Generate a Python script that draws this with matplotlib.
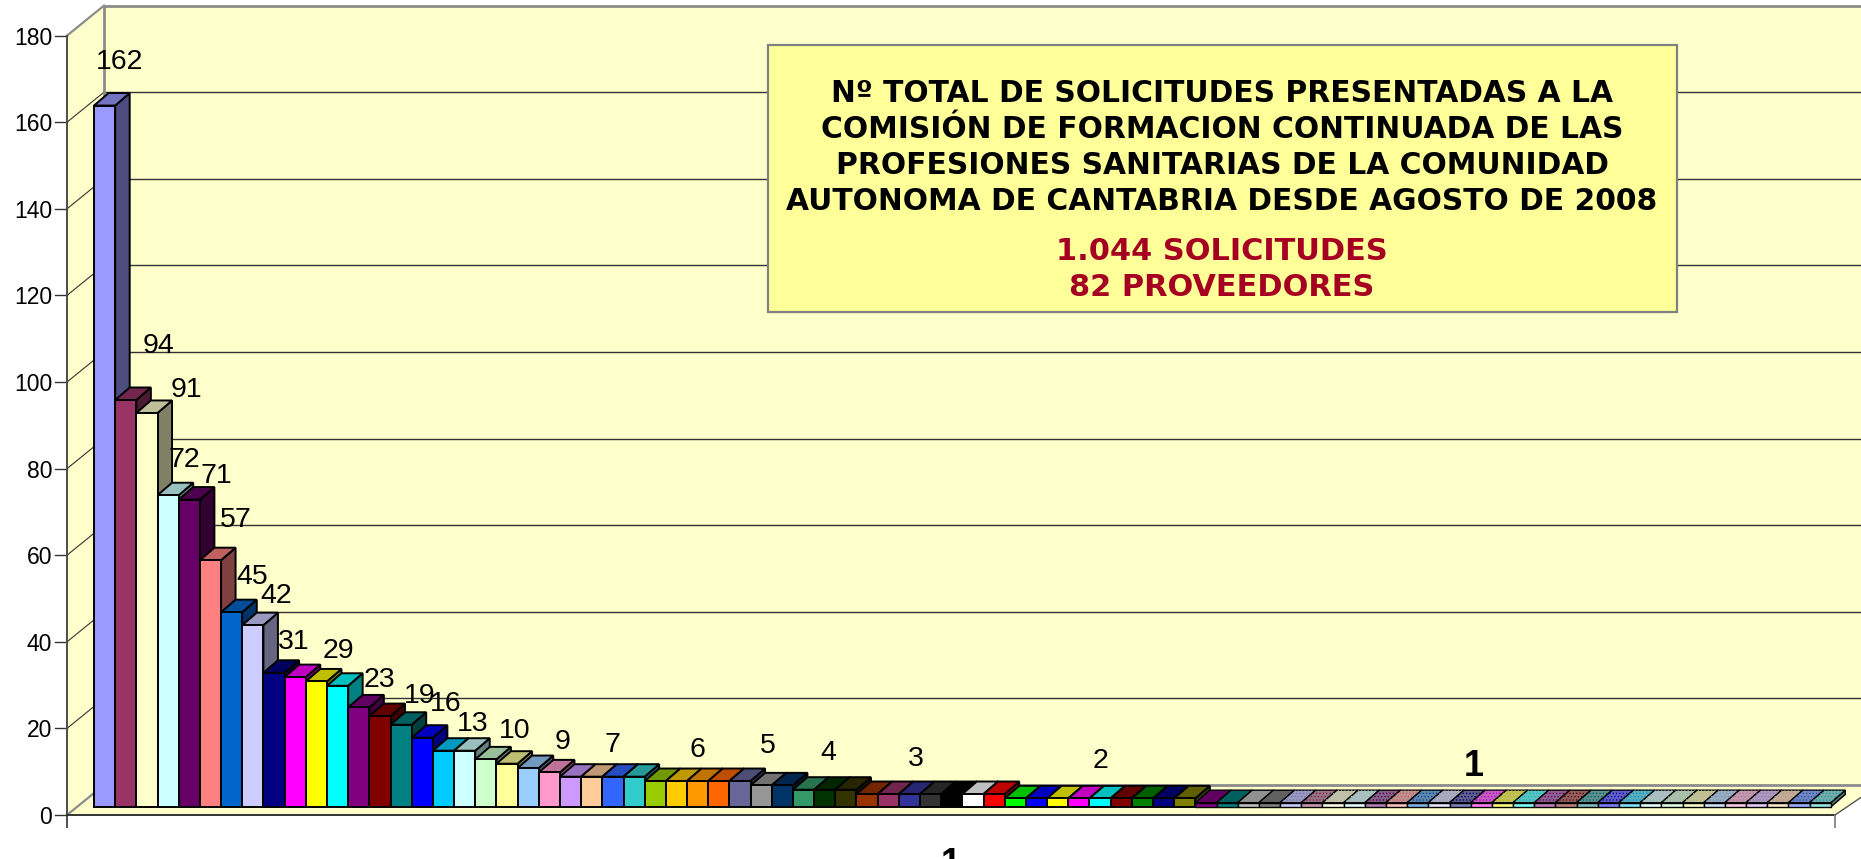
# -*- coding: utf-8 -*-
import matplotlib
matplotlib.use("Agg")
import matplotlib.pyplot as plt
from matplotlib.colors import to_rgb
from matplotlib.patches import Polygon, Rectangle

# values (82 providers, sum = 1044)
values = [162, 94, 91, 72, 71, 57, 45, 42, 31, 30, 29, 28, 23, 21, 19, 16,
          13, 13, 11, 10, 9, 8, 7, 7, 7, 7, 6, 6, 6, 6, 6, 5, 5, 4, 4, 4,
          3, 3, 3, 3, 3, 3, 3, 2, 2, 2, 2, 2, 2, 2, 2, 2,
          1, 1, 1, 1, 1, 1, 1, 1, 1, 1, 1, 1, 1, 1, 1, 1, 1, 1, 1, 1, 1, 1,
          1, 1, 1, 1, 1, 1, 1, 1]

# excel palette, the chart cycles through it
colors_a = ["#9999FF", "#993366", "#FFFFCC", "#CCFFFF", "#660066", "#FF8080",
            "#0066CC", "#CCCCFF", "#000080", "#FF00FF", "#FFFF00", "#00FFFF",
            "#800080", "#800000", "#008080", "#0000FF", "#00CCFF", "#CCFFFF",
            "#CCFFCC", "#FFFF99", "#99CCFF", "#FF99CC", "#CC99FF", "#FFCC99",
            "#3366FF", "#33CCCC"]
colors_b = ["#99CC00", "#FFCC00", "#FF9900", "#FF6600", "#666699", "#969696",
            "#003366", "#339966", "#003300", "#333300", "#993300", "#993366",
            "#333399", "#333333", "#000000", "#FFFFFF", "#FF0000", "#00FF00",
            "#0000FF", "#FFFF00", "#FF00FF", "#00FFFF", "#800000", "#008000",
            "#000080", "#808000", "#800080", "#008080", "#C0C0C0", "#808080"]
colors = colors_a + colors_b + colors_a

y_ticks = [0, 20, 40, 60, 80, 100, 120, 140, 160, 180]

# bar index, then label offset from the bar top in pixels
label_bars = [0, 1, 2, 3, 4, 5, 6, 7, 8, 10, 12, 14, 15, 16, 19, 20, 24, 28, 31, 34, 38, 47]
label_dx = [15, 33, 39, 16, 27, 25, 21, 23, 20, 22, 21, 19, 23, 29, 8, 34, 0, 0, 7, 4, 6, 0]
label_dy = [47, 57, 26, 38, 27, 43, 38, 32, 34, 33, 30, 32, 37, 30, 36, 29, 35, 34, 42, 40, 38, 40]

title_lines = ["Nº TOTAL DE SOLICITUDES PRESENTADAS A LA",
               "COMISIÓN DE FORMACION CONTINUADA DE LAS",
               "PROFESIONES SANITARIAS DE LA COMUNIDAD",
               "AUTONOMA DE CANTABRIA DESDE AGOSTO DE 2008"]
total_lines = ["1.044 SOLICITUDES", "82 PROVEEDORES"]

W, H = 1861, 859
BAR_W = 21.18   # px per bar
UNIT = 4.33     # px per value
X0, Y0 = 94, 807      # front bottom left of first bar, px
AX_X, AX_Y = 67, 815  # front corner of the axis, px
WALL_DX, WALL_DY = 37, 30
BAR_DX, BAR_DY = 14.5 / BAR_W, 12.5 / UNIT

plt.rcParams["hatch.linewidth"] = 0.6


def px_x(px):
    return (px - X0) / BAR_W


def px_y(py):
    return (Y0 - py) / UNIT


def tick_y(v):
    # the axis runs a bit below the bars
    return v - (AX_Y - Y0) / UNIT


def shade(c, f):
    return tuple(f * k for k in to_rgb(c))


def pale(c, f=0.5):
    # the last bars have a dotted fill, white dots over the colour
    return tuple(f * k + (1 - f) for k in to_rgb(c))


fig = plt.figure(figsize=(W / 100, H / 100), dpi=100)
ax = fig.add_axes([0, 0, 1, 1])
ax.set_xlim(px_x(0), px_x(W))
ax.set_ylim(px_y(H), px_y(0))
ax.axis("off")

wall = "#FFFFCC"
dx = WALL_DX / BAR_W
dy = WALL_DY / UNIT
left, right = px_x(AX_X), px_x(1835)
top = tick_y(180)

# walls and floor
ax.add_patch(Polygon([(left, tick_y(0)), (left, top), (left + dx, top + dy),
                      (px_x(W + 5), top + dy), (px_x(W + 5), tick_y(0) + 21 / UNIT),
                      (right, tick_y(0))], facecolor=wall, edgecolor="none", zorder=1))
for v in y_ticks:
    lw, c = (1.0, "#333333")
    if v in (0, 180):
        lw, c = (2.0, "#8C8C8C")
    ax.plot([left, left + dx], [tick_y(v), tick_y(v) + dy], color=c, lw=lw * 0.8, zorder=2)
    ax.plot([left + dx, px_x(W + 5)], [tick_y(v) + dy, tick_y(v) + dy], color=c, lw=lw, zorder=2)
    ax.plot([px_x(55), left], [tick_y(v), tick_y(v)], color="#333333", lw=1.0, zorder=2)
    ax.text(px_x(52), tick_y(v), str(v), ha="right", va="center_baseline",
            fontsize=16.5, family="Liberation Sans", color="black", zorder=3)
ax.plot([left + dx, left + dx], [tick_y(0) + dy, top + dy], color="#8C8C8C", lw=2, zorder=2)
ax.plot([left, left], [px_y(827), top], color="#4D4D4D", lw=1.4, zorder=2)
ax.plot([left, right], [tick_y(0), tick_y(0)], color="#333333", lw=1.4, zorder=2)
ax.plot([right, right], [px_y(827), tick_y(0)], color="#8C8C8C", lw=1.4, zorder=2)
ax.plot([right, px_x(W + 5)], [tick_y(0), tick_y(0) + 21 / UNIT], color="#555555", lw=1.0, zorder=2)

# bars, drawn left to right so the next bar hides the side of the last one
xs = [i + 0.5 for i in range(len(values))]
bars = ax.bar(xs, values, width=1.0, linewidth=1.4, edgecolor="black")
for i, (b, v) in enumerate(zip(bars, values)):
    base = colors[i]
    dotted = i >= 56
    c = pale(base) if dotted else base
    z = 10 + i
    b.set_facecolor(c)
    b.set_zorder(z + 0.3)
    lw = 1.4 if i < 52 else 1.0
    b.set_linewidth(lw)
    side = [(i + 1, 0), (i + 1 + BAR_DX, BAR_DY), (i + 1 + BAR_DX, v + BAR_DY), (i + 1, v)]
    topf = [(i, v), (i + BAR_DX, v + BAR_DY), (i + 1 + BAR_DX, v + BAR_DY), (i + 1, v)]
    ax.add_patch(Polygon(side, facecolor=shade(c, 0.5), edgecolor="black", lw=lw, zorder=z))
    ax.add_patch(Polygon(topf, facecolor=shade(c, 0.75), edgecolor="black", lw=lw, zorder=z + 0.1))
    if dotted:
        ax.add_patch(Polygon(topf, facecolor="none", edgecolor=shade(base, 0.75), lw=0,
                             hatch=".....", zorder=z + 0.2))

# data labels
for i, ddx, ddy in zip(label_bars, label_dx, label_dy):
    ax.annotate(str(values[i]), (xs[i], values[i]), xytext=(ddx, ddy), textcoords="offset pixels",
                ha="center", va="center_baseline", fontsize=20.5,
                family="Liberation Sans", color="black", zorder=200)
ax.annotate("1", (xs[65], values[65]), xytext=(-8, 40), textcoords="offset pixels",
            ha="center", va="center_baseline", fontsize=26, fontweight="bold",
            family="Liberation Sans", color="black", zorder=200)

# category label, cut off by the bottom of the picture
ax.text(px_x(951), px_y(847), "1", ha="center", va="top", fontsize=26, fontweight="bold",
        family="Liberation Sans", color="black", zorder=200)

# title box
ax.add_patch(Rectangle((px_x(768), px_y(312)), px_x(1677) - px_x(768), px_y(45) - px_y(312),
                       facecolor="#FFFF99", edgecolor="#808080", lw=1.6, zorder=300))
cx = px_x(1222)
for line, py in zip(title_lines, [90, 126, 162, 198]):
    ax.text(cx, px_y(py), line, ha="center", va="center_baseline", fontsize=21.4,
            fontweight="bold", family="DejaVu Sans", color="black", zorder=301)
for line, py in zip(total_lines, [249, 285]):
    ax.text(cx, px_y(py), line, ha="center", va="center_baseline", fontsize=21.9,
            fontweight="bold", family="DejaVu Sans", color="#A50021", zorder=301)

fig.savefig("out.png", dpi=100, facecolor="white")
